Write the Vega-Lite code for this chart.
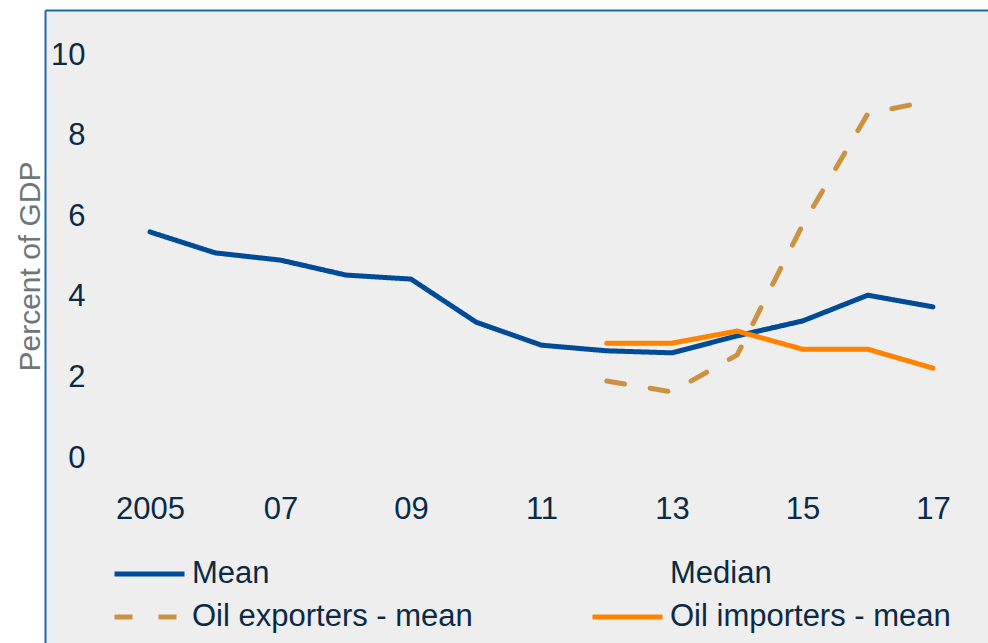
{
  "$schema": "https://vega.github.io/schema/vega-lite/v6.json",
  "width": 943,
  "height": 633,
  "autosize": {"type": "none"},
  "padding": {"left": 45, "top": 10, "right": 0, "bottom": 0},
  "background": "white",
  "config": {
    "view": {"fill": "#eeeeee", "stroke": null},
    "font": "Liberation Sans"
  },
  "data": {
    "values": [
      {"year": 2005, "series": "Mean", "value": 5.61},
      {"year": 2006, "series": "Mean", "value": 5.09},
      {"year": 2007, "series": "Mean", "value": 4.91},
      {"year": 2008, "series": "Mean", "value": 4.54},
      {"year": 2009, "series": "Mean", "value": 4.44},
      {"year": 2010, "series": "Mean", "value": 3.37},
      {"year": 2011, "series": "Mean", "value": 2.8},
      {"year": 2012, "series": "Mean", "value": 2.66},
      {"year": 2013, "series": "Mean", "value": 2.61},
      {"year": 2014, "series": "Mean", "value": 3.03},
      {"year": 2015, "series": "Mean", "value": 3.4},
      {"year": 2016, "series": "Mean", "value": 4.04},
      {"year": 2017, "series": "Mean", "value": 3.75},
      {"year": 2012, "series": "Oil exporters - mean", "value": 1.91},
      {"year": 2013, "series": "Oil exporters - mean", "value": 1.64},
      {"year": 2014, "series": "Oil exporters - mean", "value": 2.56},
      {"year": 2015, "series": "Oil exporters - mean", "value": 5.78},
      {"year": 2016, "series": "Oil exporters - mean", "value": 8.54},
      {"year": 2017, "series": "Oil exporters - mean", "value": 8.88},
      {"year": 2012, "series": "Oil importers - mean", "value": 2.85},
      {"year": 2013, "series": "Oil importers - mean", "value": 2.85},
      {"year": 2014, "series": "Oil importers - mean", "value": 3.15},
      {"year": 2015, "series": "Oil importers - mean", "value": 2.7},
      {"year": 2016, "series": "Oil importers - mean", "value": 2.7},
      {"year": 2017, "series": "Oil importers - mean", "value": 2.23}
    ]
  },
  "layer": [
    {
      "mark": {"type": "line", "strokeWidth": 5, "strokeCap": "round", "strokeJoin": "round"},
      "encoding": {
        "x": {
          "field": "year",
          "type": "quantitative",
          "scale": {"domain": [2003.391, 2017.843], "nice": false, "zero": false},
          "axis": {
            "orient": "bottom",
            "values": [2005, 2007, 2009, 2011, 2013, 2015, 2017],
            "labelExpr": "datum.value == 2005 ? '2005' : slice(format(datum.value, 'd'), 2)",
            "domain": false,
            "ticks": false,
            "tickSize": 0,
            "grid": false,
            "offset": -125,
            "labelPadding": 0,
            "labelBaseline": "alphabetic",
            "labelFontSize": 31,
            "labelColor": "#0b2a45",
            "labelOverlap": false,
            "labelFlush": false,
            "title": null
          }
        },
        "y": {
          "field": "value",
          "type": "quantitative",
          "scale": {"domain": [-4.59, 11.117], "nice": false, "zero": false},
          "axis": {
            "orient": "left",
            "values": [0, 2, 4, 6, 8, 10],
            "domain": true,
            "domainColor": "#1a6aa3",
            "domainWidth": 2,
            "ticks": false,
            "tickSize": 0,
            "grid": false,
            "labelPadding": -40,
            "labelAlign": "right",
            "labelBaseline": "middle",
            "labelFontSize": 31,
            "labelColor": "#0b2a45",
            "labelFlush": false,
            "labelOverlap": false,
            "title": "Percent of GDP",
            "titleFont": "Liberation Sans",
            "titleFontSize": 30,
            "titleFontWeight": "normal",
            "titleColor": "#6f7676",
            "titleX": -15,
            "titleY": 256,
            "titleAngle": -90,
            "titleAlign": "center",
            "titleBaseline": "middle"
          }
        },
        "color": {
          "field": "series",
          "type": "nominal",
          "scale": {
            "domain": ["Mean", "Median", "Oil exporters - mean", "Oil importers - mean"],
            "range": ["#004b98", "transparent", "#cc9241", "#ff8300"]
          },
          "legend": {
            "orient": "none",
            "legendX": 67,
            "legendY": 542.5,
            "columns": 2,
            "direction": "horizontal",
            "title": null,
            "symbolType": "stroke",
            "symbolSize": 4900,
            "symbolStrokeWidth": 5,
            "clipHeight": 43,
            "labelFontSize": 31,
            "labelColor": "#0b2a45",
            "labelOffset": 5,
            "labelLimit": 0,
            "columnPadding": 117,
            "rowPadding": 0
          }
        },
        "strokeDash": {
          "field": "series",
          "type": "nominal",
          "scale": {
            "domain": ["Mean", "Median", "Oil exporters - mean", "Oil importers - mean"],
            "range": [[1, 0], [1, 0], [18, 26], [1, 0]]
          },
          "legend": {
            "orient": "none",
            "legendX": 67,
            "legendY": 542.5,
            "columns": 2,
            "direction": "horizontal",
            "title": null,
            "symbolType": "stroke",
            "symbolSize": 4900,
            "symbolStrokeWidth": 5,
            "clipHeight": 43,
            "labelFontSize": 31,
            "labelColor": "#0b2a45",
            "labelOffset": 5,
            "labelLimit": 0,
            "columnPadding": 117,
            "rowPadding": 0
          }
        }
      }
    },
    {
      "mark": {"type": "line", "opacity": 0},
      "encoding": {
        "x": {
          "field": "year",
          "type": "quantitative",
          "axis": {
            "orient": "top",
            "domain": true,
            "domainColor": "#1a6aa3",
            "domainWidth": 2,
            "labels": false,
            "ticks": false,
            "grid": false,
            "title": null
          }
        }
      }
    }
  ],
  "resolve": {"axis": {"x": "independent"}}
}
